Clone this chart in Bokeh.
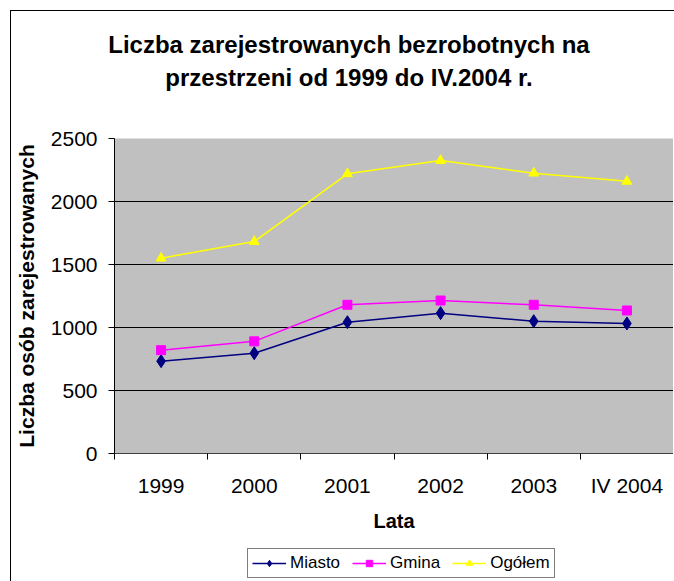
from bokeh.plotting import figure
from bokeh.models import FixedTicker, Legend, LegendItem, Range1d, Div
from bokeh.layouts import column
from bokeh.embed import file_html
from bokeh.resources import INLINE

categories = ["1999", "2000", "2001", "2002", "2003", "IV 2004"]
miasto = [733, 796, 1042, 1114, 1050, 1032]
gmina = [820, 890, 1180, 1214, 1180, 1135]
ogolem = [1550, 1682, 2220, 2325, 2225, 2160]
y_ticks = [0, 500, 1000, 1500, 2000, 2500]
series_names = ["Miasto", "Gmina", "Ogółem"]
title_lines = ["Liczba zarejestrowanych bezrobotnych na",
               "przestrzeni od 1999 do IV.2004 r."]

FONT = "Liberation Sans"
COLORS = ["#000080", "#FF00FF", "#FFFF00"]
MARKERS = [("diamond", 13), ("square", 9), ("triangle", 10)]

xs = [i + 0.5 for i in range(len(categories))]

title = Div(text=(
    '<div style="width:662px;text-align:center;font-family:\'Liberation Sans\';'
    'font-weight:bold;font-size:24px;line-height:33px;color:black;'
    'padding-top:12px;padding-left:4px;box-sizing:border-box;">'
    + title_lines[0] + "<br>" + title_lines[1] + "</div>"),
    width=662, height=107)

p = figure(width=662, height=412, output_backend="svg", toolbar_location=None,
           x_range=Range1d(0, len(categories)), y_range=Range1d(0, 2500),
           min_border_left=103, min_border_right=0, min_border_top=10,
           min_border_bottom=87)

p.background_fill_color = "#C0C0C0"
p.border_fill_color = "white"
p.outline_line_color = None

# axes
p.xaxis.ticker = FixedTicker(ticks=xs, minor_ticks=list(range(len(categories) + 1)))
p.xaxis.major_label_overrides = {x: c for x, c in zip(xs, categories)}
p.xaxis.major_tick_line_color = None
p.xaxis.major_tick_out = 6
p.xaxis.major_tick_in = 0
p.xaxis.minor_tick_line_color = "black"
p.xaxis.minor_tick_out = 6
p.xaxis.minor_tick_in = 0
p.xaxis.axis_line_color = "#404040"
p.xaxis.major_label_text_font = FONT
p.xaxis.major_label_text_font_size = "21px"
p.xaxis.major_label_text_color = "black"
p.xaxis.major_label_standoff = 14
p.xaxis.axis_label = "Lata"
p.xaxis.axis_label_text_font = FONT
p.xaxis.axis_label_text_font_size = "20px"
p.xaxis.axis_label_text_font_style = "bold"
p.xaxis.axis_label_text_color = "black"
p.xaxis.axis_label_standoff = 10

p.yaxis.ticker = FixedTicker(ticks=y_ticks)
p.yaxis.minor_tick_line_color = None
p.yaxis.major_tick_out = 6
p.yaxis.major_tick_in = 0
p.yaxis.major_tick_line_color = "black"
p.yaxis.axis_line_color = "black"
p.yaxis.major_label_text_font = FONT
p.yaxis.major_label_text_font_size = "21px"
p.yaxis.major_label_text_color = "black"
p.yaxis.major_label_standoff = 11
p.yaxis.axis_label = "Liczba osób zarejestrowanych"
p.yaxis.axis_label_text_font = FONT
p.yaxis.axis_label_text_font_size = "21px"
p.yaxis.axis_label_text_font_style = "bold"
p.yaxis.axis_label_text_color = "black"
p.yaxis.axis_label_standoff = 10

p.xgrid.grid_line_color = None
p.ygrid.ticker = FixedTicker(ticks=y_ticks)
p.ygrid.grid_line_color = "black"
p.ygrid.grid_line_width = 1

# series
for vals, col, (mk, sz) in zip([miasto, gmina, ogolem], COLORS, MARKERS):
    p.line(xs, vals, line_color=col, line_width=1.5)
    p.scatter(xs, vals, marker=mk, size=sz, fill_color=col, line_color=col)

# legend strip: small figure whose view range hides its copies of the series,
# so only the legend samples are visible
lf = figure(width=662, height=41, output_backend="svg", toolbar_location=None,
            x_range=Range1d(-20, -10), y_range=Range1d(-20, -10),
            x_axis_type=None, y_axis_type=None,
            min_border_left=103, min_border_right=0, min_border_top=0,
            min_border_bottom=0)
lf.outline_line_color = None
lf.xgrid.visible = False
lf.ygrid.visible = False
items = []
for name, vals, col, (mk, sz) in zip(series_names, [miasto, gmina, ogolem],
                                     COLORS, MARKERS):
    rl = lf.line(xs, vals, line_color=col, line_width=1.5)
    rm = lf.scatter(xs, vals, marker=mk, size=sz * 0.7, fill_color=col,
                    line_color=col)
    items.append(LegendItem(label=name, renderers=[rl, rm]))
legend = Legend(items=items, orientation="horizontal", location=(133, 3))
legend.label_text_font = FONT
legend.label_text_font_size = "17px"
legend.label_text_color = "black"
legend.border_line_color = "black"
legend.border_line_width = 1
legend.background_fill_color = "white"
legend.background_fill_alpha = 1
legend.glyph_width = 34
legend.glyph_height = 16
legend.label_standoff = 4
legend.spacing = 12
legend.padding = 4
legend.margin = 0
lf.add_layout(legend, "center")

layout = column(title, p, lf)
layout.margin = (10, 0, 0, 10)
layout.styles = {"border-top": "1px solid black", "border-left": "1px solid black"}

open("out.html", "w").write(file_html(layout, INLINE))
